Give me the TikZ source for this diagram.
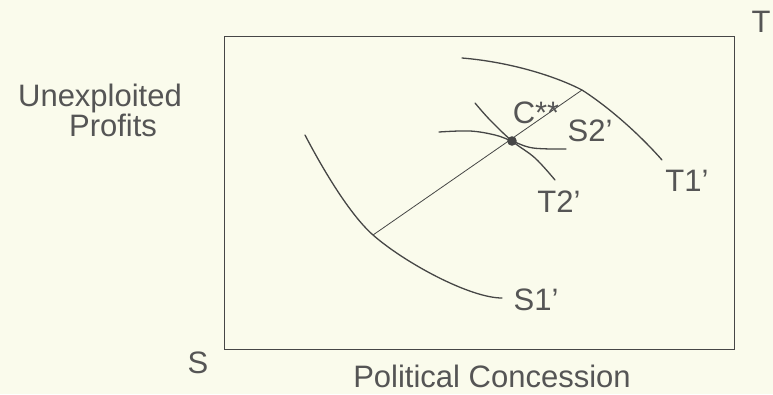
\documentclass[tikz,border=0pt]{standalone}
\usepackage{fontspec}
\setmainfont{Liberation Sans}
\definecolor{bg}{RGB}{250,251,236}
\definecolor{ink}{RGB}{70,70,70}
\definecolor{txt}{RGB}{85,85,85}
\begin{document}
\begin{tikzpicture}[x=1pt,y=-1pt,
  lbl/.style={font=\fontsize{31}{33}\selectfont, text=txt, inner sep=0pt},
  curve/.style={draw=ink, line width=1.3pt, line cap=round},
  thin/.style={draw=ink, line width=0.8pt}]
\fill[bg] (0,0) rectangle (773,394);
\useasboundingbox (0,0) rectangle (773,394);
% frame
\node[draw=ink, line width=1pt, minimum width=510pt, minimum height=313pt, inner sep=0pt, anchor=north west] (frame) at (224,36) {};
% key points
\coordinate (s1j) at (373,235);
\coordinate (t1j) at (582,90);
\coordinate (c) at (512,141);
% diagonal
\draw[thin] (s1j) -- (t1j);
% S1'
\draw[curve] (305,135) .. controls (318,160) and (347,212) .. (s1j)
  .. controls (405,263) and (470,298) .. (502,298);
% T1'
\draw[curve] (462,58) .. controls (510,62) and (555,76) .. (t1j)
  .. controls (610,108) and (640,135) .. (662,160);
% S2'
\draw[curve] plot[smooth, tension=0.6] coordinates {(439,132) (470,131) (495,135) (512,141) (533,148) (566,149)};
% T2'
\draw[curve] plot[smooth, tension=0.6] coordinates {(475,103) (490,120) (512,141) (535,158) (555,180)};
% dot
\fill[ink] (c) circle (4.8pt);
% labels
\node[lbl] (lT) at (761,22) {T};
\node[lbl] (lS) at (198,363) {S};
\node[lbl, anchor=base] (lx) at (492,387) {Political Concession};
\node[lbl, anchor=base] (ly1) at (100,106) {Unexploited};
\node[lbl, anchor=base] (ly2) at (113,136) {Profits};
\node[lbl] (lC) at (536,113) {C**};
\node[lbl] (lS2) at (590,131) {S2’};
\node[lbl] (lT2) at (559,202) {T2’};
\node[lbl] (lT1) at (687,181) {T1’};
\node[lbl] (lS1) at (536,300) {S1’};
\end{tikzpicture}
\end{document}
